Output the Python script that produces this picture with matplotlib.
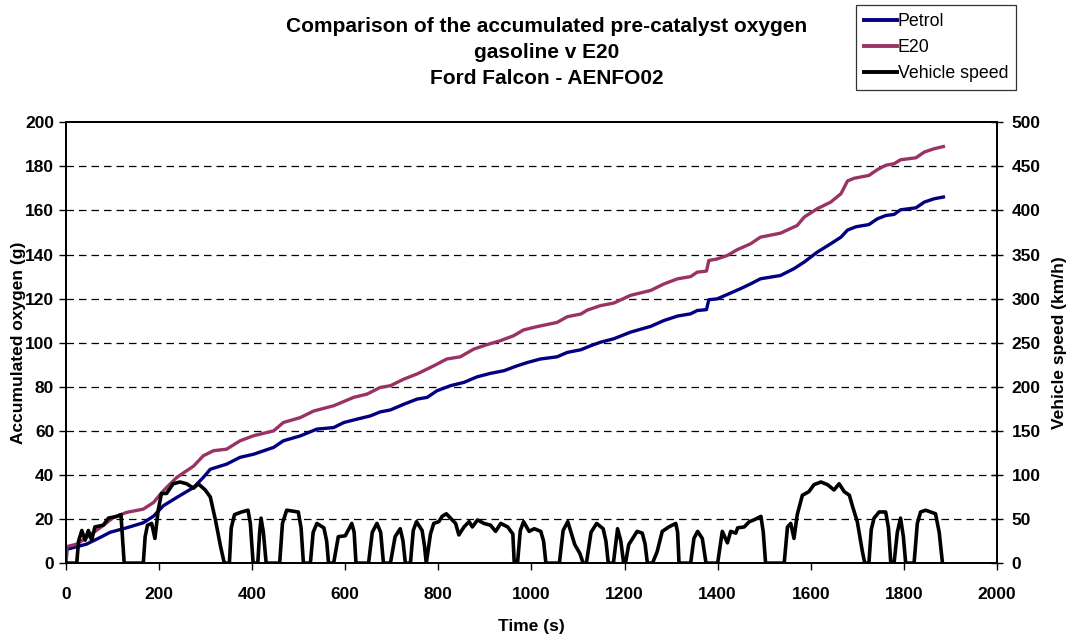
import matplotlib.pyplot as plt
from matplotlib.lines import Line2D

# Accumulated pre-catalyst oxygen (g)
petrol_t = [0, 2, 44, 73, 95, 130, 166, 188, 209, 238, 274, 295, 310, 345, 374, 403,
            446, 467, 503, 539, 575, 597, 625, 654, 675, 697, 726, 754, 776, 797, 826,
            855, 883, 912, 941, 969, 991, 1019, 1055, 1077, 1106, 1127, 1148, 1177,
            1213, 1256, 1285, 1314, 1342, 1356, 1376, 1381, 1399, 1421, 1449, 1471,
            1492, 1535, 1564, 1586, 1614, 1643, 1665, 1679, 1697, 1725, 1743, 1761,
            1779, 1793, 1826, 1844, 1865, 1885]
petrol_o2 = [0, 6.3, 8.6, 11.6, 14, 16, 18.3, 21.3, 26, 29.8, 34.3, 38.9, 42.6, 44.9,
             48, 49.4, 52.5, 55.5, 57.7, 60.8, 61.5, 63.8, 65.3, 66.8, 68.6, 69.5,
             72.1, 74.4, 75.2, 78.2, 80.5, 82, 84.5, 86.1, 87.3, 89.5, 91, 92.6, 93.6,
             95.6, 96.8, 98.6, 100.2, 101.8, 104.8, 107.4, 110.1, 112.1, 113.1, 114.6,
             115, 119.5, 119.9, 121.9, 124.5, 126.7, 129, 130.5, 133.6, 136.6, 141.1,
             144.9, 147.9, 151.1, 152.6, 153.6, 156.2, 157.7, 158.2, 160.3, 161.2,
             163.8, 165.3, 166.1]

e20_t = [0, 2, 23, 44, 73, 102, 130, 166, 188, 209, 238, 274, 295, 317, 345, 374, 403,
         446, 467, 503, 532, 575, 618, 647, 675, 697, 726, 754, 790, 818, 847, 876,
         904, 933, 962, 983, 1012, 1055, 1077, 1106, 1120, 1148, 1177, 1213, 1256,
         1285, 1314, 1342, 1356, 1376, 1381, 1399, 1421, 1442, 1471, 1492, 1535, 1571,
         1586, 1614, 1643, 1665, 1679, 1693, 1725, 1743, 1761, 1779, 1793, 1826, 1844,
         1865, 1885]
e20_o2 = [0, 7.5, 8.6, 11.6, 16, 20.7, 23, 24.5, 27.5, 32.8, 38.9, 44, 48.7, 51, 51.7,
          55.5, 57.8, 60, 63.8, 66, 69, 71.4, 75.2, 76.7, 79.7, 80.5, 83.5, 85.8, 89.5,
          92.6, 93.6, 97.1, 99.1, 100.9, 103.2, 105.8, 107.3, 109.2, 111.8, 113, 114.8,
          116.8, 118, 121.5, 123.7, 126.7, 129, 130, 132, 132.5, 137.3, 138, 139.6,
          142.2, 144.9, 147.9, 149.7, 153.2, 157, 160.8, 163.8, 167.6, 173.4, 174.6,
          175.9, 178.5, 180.5, 181.2, 183, 183.9, 186.5, 188, 189]

# Vehicle speed (km/h)
speed_t = [0, 23, 27, 34, 41, 48, 55, 62, 80, 91, 109, 118, 125, 166, 170, 175, 184,
           191, 198, 205, 216, 230, 245, 259, 274, 284, 299, 310, 321, 332, 340, 351,
           355, 362, 377, 391, 396, 402, 412, 416, 419, 424, 430, 459, 465, 474, 499,
           505, 510, 525, 531, 539, 554, 560, 564, 575, 585, 600, 614, 619, 623, 650,
           658, 668, 676, 682, 697, 707, 718, 724, 729, 740, 746, 753, 765, 770, 774,
           783, 790, 801, 808, 817, 826, 837, 844, 855, 866, 873, 884, 898, 912, 923,
           934, 949, 960, 963, 970, 976, 983, 995, 1006, 1020, 1026, 1031, 1060, 1068,
           1078, 1093, 1104, 1111, 1118, 1128, 1140, 1154, 1160, 1165, 1176, 1185, 1192,
           1198, 1202, 1209, 1227, 1238, 1244, 1249, 1260, 1270, 1281, 1295, 1310, 1314,
           1317, 1342, 1349, 1357, 1367, 1375, 1400, 1410, 1421, 1428, 1439, 1443, 1457,
           1468, 1478, 1493, 1498, 1503, 1543, 1550, 1557, 1564, 1571, 1582, 1589, 1596,
           1607, 1622, 1636, 1650, 1661, 1672, 1683, 1690, 1700, 1711, 1716, 1725, 1730,
           1736, 1747, 1761, 1767, 1772, 1779, 1786, 1793, 1799, 1804, 1822, 1829, 1836,
           1847, 1868, 1876, 1883]
speed_kmh = [0, 0, 25, 37, 26, 37, 26, 41, 43, 51, 53, 55, 0, 0, 30, 43, 45, 28, 60, 79,
             79, 90, 92, 90, 85, 90, 83, 75, 49, 19, 0, 0, 40, 55, 58, 60, 45, 0, 0, 35,
             51, 35, 0, 0, 45, 60, 58, 40, 0, 0, 35, 45, 40, 25, 0, 0, 30, 31, 45, 35, 0,
             0, 35, 45, 35, 0, 0, 30, 39, 25, 0, 0, 37, 47, 37, 20, 0, 33, 45, 47, 53, 56,
             51, 45, 32, 41, 47, 41, 49, 45, 43, 36, 45, 41, 33, 0, 0, 37, 47, 36, 39, 36,
             25, 0, 0, 37, 47, 21, 11, 0, 0, 35, 45, 39, 25, 0, 0, 39, 25, 0, 0, 21, 36,
             34, 22, 0, 0, 13, 36, 41, 45, 35, 0, 0, 28, 36, 28, 0, 0, 36, 23, 36, 34, 40,
             41, 47, 49, 53, 35, 0, 0, 41, 45, 28, 55, 77, 79, 81, 89, 92, 89, 83, 90, 81,
             77, 64, 47, 13, 0, 0, 38, 51, 58, 58, 40, 0, 0, 35, 51, 30, 0, 0, 45, 58, 60,
             56, 35, 0]

title = ("Comparison of the accumulated pre-catalyst oxygen\n"
         "gasoline v E20\nFord Falcon - AENFO02")


def main():
    plt.rcParams['font.family'] = ['Liberation Sans', 'DejaVu Sans']

    fig = plt.figure(figsize=(10.7, 6.37), dpi=100)
    ax = fig.add_axes([0.0617, 0.116, 0.870, 0.692])
    ax2 = ax.twinx()

    # Oxygen lines
    ax.plot(petrol_t, petrol_o2, color="#000080", lw=2.4, solid_joinstyle="round")
    ax.plot(e20_t, e20_o2, color="#993366", lw=2.4, solid_joinstyle="round")
    ax.set_xlim(0, 2000)
    ax.set_ylim(0, 200)
    ax.set_xticks(range(0, 2001, 200))
    ax.set_yticks(range(0, 201, 20))
    for g in range(20, 200, 20):
        ax.axhline(g, color="black", lw=0.9, dashes=(6, 4), zorder=0)

    # Speed line
    ax2.plot(speed_t, speed_kmh, color="black", lw=2.6, solid_joinstyle="round")
    ax2.set_ylim(0, 500)
    ax2.set_yticks(range(0, 501, 50))

    for a in (ax, ax2):
        for s in a.spines.values():
            s.set_linewidth(1.3)
        a.tick_params(labelsize=12.5, width=1, length=5)
        for lab in a.get_xticklabels() + a.get_yticklabels():
            lab.set_fontweight("bold")
    ax.tick_params(axis="x", pad=12)
    ax2.tick_params(axis="y", direction="inout", length=9, pad=6)

    ax.set_xlabel("Time (s)", fontsize=12.5, fontweight="bold", labelpad=12.5)
    ax.set_ylabel("Accumulated oxygen (g)", fontsize=12.5, fontweight="bold",
                  labelpad=-1)
    ax2.set_ylabel("Vehicle speed (km/h)", fontsize=12.5, fontweight="bold",
                   labelpad=8)

    fig.text(0.511, 0.973, title, ha="center", va="top", fontsize=15,
             fontweight="bold", linespacing=1.45)

    handles = [Line2D([], [], color="#000080", lw=2.8),
               Line2D([], [], color="#993366", lw=2.8),
               Line2D([], [], color="black", lw=2.8)]
    leg = fig.legend(handles, ["Petrol", "E20", "Vehicle speed"],
                     loc="upper left", bbox_to_anchor=(0.8, 0.992),
                     fontsize=12.8, frameon=True, fancybox=False,
                     handlelength=1.85, handletextpad=0.05, borderpad=0.45,
                     labelspacing=0.5, borderaxespad=0)
    leg.get_frame().set_edgecolor("black")
    leg.get_frame().set_linewidth(0.9)

    fig.savefig("out.png", dpi=100)


if __name__ == "__main__":
    main()
